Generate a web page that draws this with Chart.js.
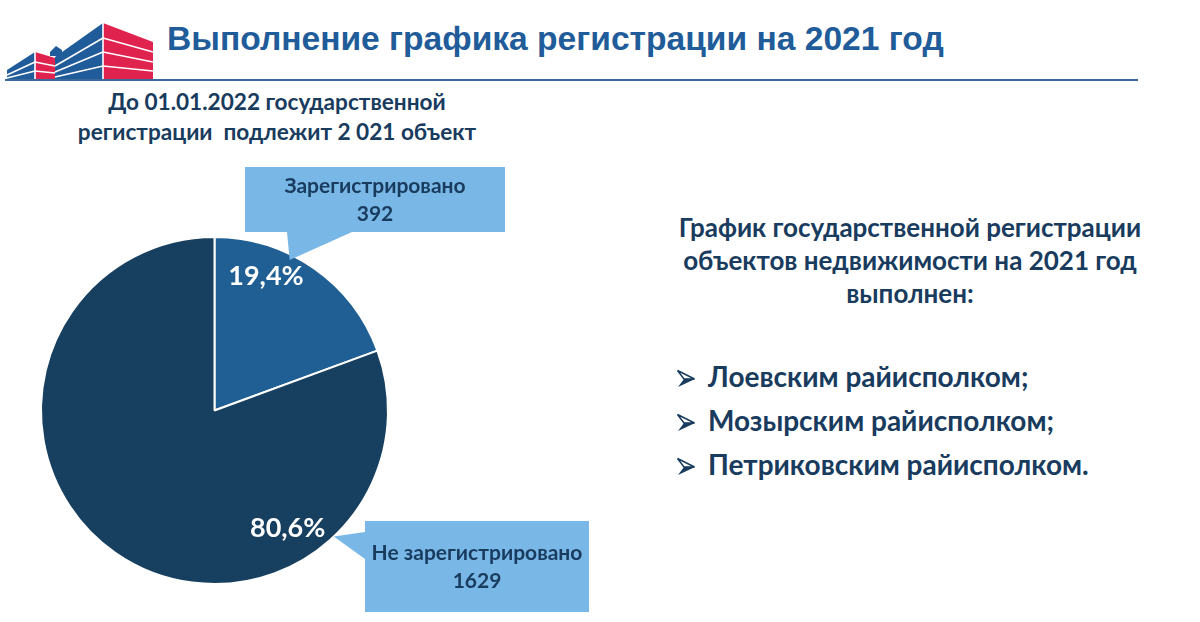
<!DOCTYPE html>
<html>
<head>
<meta charset="utf-8">
<script src="https://cdn.jsdelivr.net/npm/chart.js@4"></script>
<style>
  html, body { margin: 0; padding: 0; background: #fff; }
  #page { position: relative; width: 1200px; height: 622px; overflow: hidden; }
  #chart { position: absolute; left: 0; top: 0; }
  .txt { position: absolute; font-family: Lato, "Open Sans", sans-serif; font-weight: bold; color: #183b5e; white-space: nowrap; }
  #title { left: 167px; top: 20px; font-family: "Liberation Sans", Arial, sans-serif; font-size: 33.6px; color: #1f5c99; }
  #rule { position: absolute; left: 5px; top: 79px; width: 1133px; height: 2px; background: #3a6a9a; }
  #sub { left: 57px; top: 87px; width: 440px; text-align: center; font-size: 22.6px; line-height: 30px; }
  #right { left: 660px; top: 211px; width: 500px; text-align: center; font-size: 26px; line-height: 33px; }
  .bullet { left: 676px; font-size: 28px; }
  .bullet svg { margin-right: 12px; vertical-align: baseline; position: relative; top: 1px; }
</style>
</head>
<body>
<div id="page">
  <svg id="logo" style="position:absolute;left:0;top:0" width="170" height="85">
    <polygon points="7,80 7,70 35,52 35,80" fill="#1f5c99"/>
    <polygon points="35,52 55,58 55,80 35,80" fill="#e0224f"/>
    <polygon points="50,52 56,46 62,50 62,56 50,56" fill="#1f5c99"/>
    <polygon points="55,57 103,23 103,80 55,80" fill="#1f5c99"/>
    <polygon points="103,23 153,42 153,80 103,80" fill="#e0224f"/>
    <g stroke="#fff" stroke-width="1.6">
      <line x1="7" y1="75" x2="35" y2="62"/><line x1="35" y1="62" x2="55" y2="66"/>
      <line x1="7" y1="78" x2="35" y2="71"/><line x1="35" y1="71" x2="55" y2="73"/>
      <line x1="55" y1="66" x2="103" y2="38"/><line x1="103" y1="38" x2="153" y2="52"/>
      <line x1="55" y1="72" x2="103" y2="52"/><line x1="103" y1="52" x2="153" y2="62"/>
      <line x1="55" y1="77" x2="103" y2="66"/><line x1="103" y1="66" x2="153" y2="71"/>
      <line x1="103" y1="23" x2="103" y2="80"/><line x1="35" y1="52" x2="35" y2="80"/>
    </g>
  </svg>
  <div id="title" class="txt">Выполнение графика регистрации на 2021 год</div>
  <div id="rule"></div>
  <div id="sub" class="txt">До 01.01.2022 государственной<br>регистрации&nbsp; подлежит 2 021 объект</div>
  <div id="right" class="txt">График государственной регистрации<br>объектов недвижимости на 2021 год<br>выполнен:</div>
  <div class="txt bullet" style="top:359px"><svg width="20" height="19"><path d="M1.5,1.5 L18.5,10 L8,10 Z" fill="none" stroke="#183b5e" stroke-width="1.5"/><path d="M8,10 L19,10 L2,18 Z" fill="#183b5e"/></svg>Лоевским райисполком;</div>
  <div class="txt bullet" style="top:403px"><svg width="20" height="19"><path d="M1.5,1.5 L18.5,10 L8,10 Z" fill="none" stroke="#183b5e" stroke-width="1.5"/><path d="M8,10 L19,10 L2,18 Z" fill="#183b5e"/></svg>Мозырским райисполком;</div>
  <div class="txt bullet" style="top:447px"><svg width="20" height="19"><path d="M1.5,1.5 L18.5,10 L8,10 Z" fill="none" stroke="#183b5e" stroke-width="1.5"/><path d="M8,10 L19,10 L2,18 Z" fill="#183b5e"/></svg>Петриковским райисполком.</div>
  <canvas id="chart" width="1200" height="622"></canvas>
</div>
<script>
const labels = ["Зарегистрировано", "Не зарегистрировано"];
const counts = [392, 1629];
const sliceColors = ["#1f5f93", "#173f5f"];

const total = counts.reduce((a, b) => a + b, 0);
const percents = counts.map(v => (v / total * 100).toFixed(1).replace(".", ",") + "%");

// layout per slice: callout box, pointer base, where pointer lands, where the % label sits
const callouts = [
    { box: [245, 167, 260, 65], base: [[287, 232], [352, 232]], tipFrac: 0.38, tipR: 0.97, pctFrac: 0.3, pctR: 0.83 },
    { box: [365, 521, 224, 91], base: [[365, 532], [365, 559]], tipFrac: 0.23, tipR: 1.0, pctFrac: 0.27, pctR: 0.8 }
];

function pointOnArc(arc, frac, rFrac) {
    const a = arc.startAngle + (arc.endAngle - arc.startAngle) * frac;
    const r = arc.outerRadius * rFrac;
    return [arc.x + Math.cos(a) * r, arc.y + Math.sin(a) * r];
}

const calloutPlugin = {
    id: "callouts",
    afterDatasetsDraw(chart) {
        const ctx = chart.ctx;
        const arcs = chart.getDatasetMeta(0).data;
        arcs.forEach((arc, i) => {
            const c = callouts[i];
            // percent label inside the slice
            const p = pointOnArc(arc, c.pctFrac, c.pctR);
            ctx.save();
            ctx.fillStyle = "#ffffff";
            ctx.font = "bold 27px Lato, 'Open Sans', sans-serif";
            ctx.textAlign = "center";
            ctx.textBaseline = "middle";
            ctx.fillText(percents[i], p[0], p[1]);

            const tip = pointOnArc(arc, c.tipFrac, c.tipR);
            ctx.fillStyle = "#79b7e6";
            ctx.beginPath();
            ctx.rect(c.box[0], c.box[1], c.box[2], c.box[3]);
            ctx.fill();
            ctx.beginPath();
            ctx.moveTo(c.base[0][0], c.base[0][1]);
            ctx.lineTo(tip[0], tip[1]);
            ctx.lineTo(c.base[1][0], c.base[1][1]);
            ctx.closePath();
            ctx.fill();
            ctx.fillStyle = "#183b5e";
            ctx.font = "bold 21px Lato, 'Open Sans', sans-serif";
            const cx = c.box[0] + c.box[2] / 2;
            const cy = c.box[1] + c.box[3] / 2;
            ctx.fillText(labels[i], cx, cy - 13);
            ctx.fillText(String(counts[i]), cx, cy + 15);
            ctx.restore();
        });
    }
};

new Chart(document.getElementById("chart"), {
    type: "pie",
    data: {
        labels: labels,
        datasets: [{
            data: counts,
            backgroundColor: sliceColors,
            borderColor: "#ffffff",
            borderWidth: 2
        }]
    },
    options: {
        responsive: false,
        animation: false,
        layout: { padding: { left: 40, top: 236, right: 811, bottom: 37 } },
        plugins: {
            legend: { display: false },
            tooltip: { enabled: false }
        }
    },
    plugins: [calloutPlugin]
});
</script>
</body>
</html>
